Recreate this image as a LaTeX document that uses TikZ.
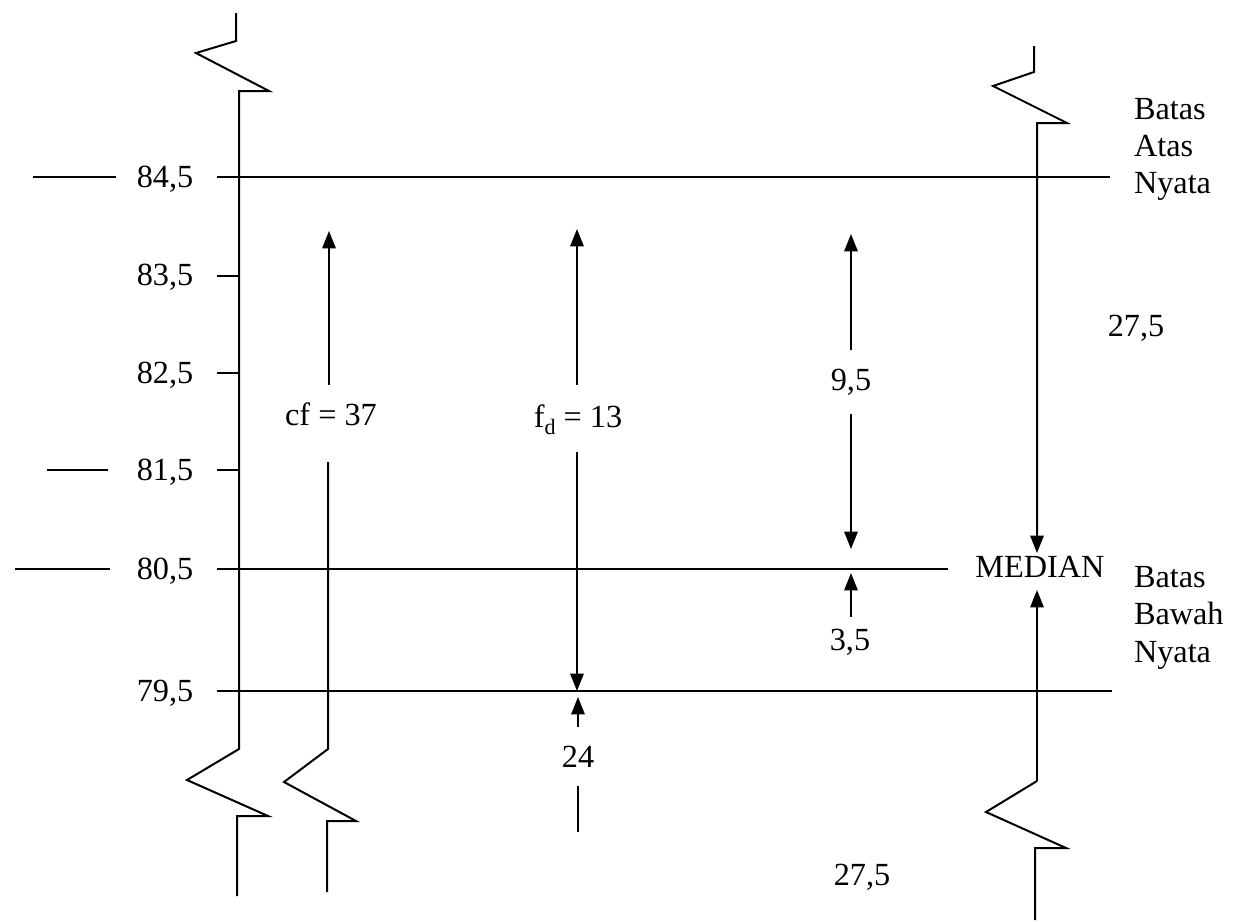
\documentclass[tikz,border=0pt]{standalone}
\usepackage{fontspec}
\setmainfont{Liberation Serif}
\usetikzlibrary{arrows.meta}
\begin{document}
\begin{tikzpicture}[x=0.75pt,y=-0.75pt,line width=1.5pt,line join=miter,
  lbl/.style={font=\fontsize{24.2}{29}\selectfont,inner sep=0pt},
  val/.style={lbl,anchor=base},
  side/.style={lbl,anchor=base west},
  arr/.style={-{Triangle[length=13pt,width=10pt]}}]
\path[use as bounding box] (0,0) rectangle (1236,922);

% scale values on the left
\node[val] (v845) at (165,187) {84,5};
\node[val] (v835) at (165,285) {83,5};
\node[val] (v825) at (165,383) {82,5};
\node[val] (v815) at (165,480) {81,5};
\node[val] (v805) at (165,579) {80,5};
\node[val] (v795) at (165,701) {79,5};

% short marks left of the values
\coordinate (a1) at (33,177);  \coordinate (a2) at (116,177);
\coordinate (b1) at (47,470);  \coordinate (b2) at (108,470);
\coordinate (c1) at (15,569);  \coordinate (c2) at (110,569);
\draw (a1) -- (a2);
\draw (b1) -- (b2);
\draw (c1) -- (c2);

% class boundaries and ticks
\coordinate (h845a) at (217,177); \coordinate (h845b) at (1110,177);
\coordinate (h835a) at (217,276); \coordinate (h835b) at (239,276);
\coordinate (h825a) at (217,373); \coordinate (h825b) at (239,373);
\coordinate (h815a) at (217,470); \coordinate (h815b) at (239,470);
\coordinate (h805a) at (217,569); \coordinate (h805b) at (948,569);
\coordinate (h795a) at (217,691); \coordinate (h795b) at (1112,691);
\draw (h845a) -- (h845b);
\draw (h835a) -- (h835b);
\draw (h825a) -- (h825b);
\draw (h815a) -- (h815b);
\draw (h805a) -- (h805b);
\draw (h795a) -- (h795b);

% broken vertical axis
\coordinate (ax0) at (236,13);
\coordinate (ax1) at (237,896);
\draw (ax0) -- (236,41) -- (196,53) -- (269,91) -- (239,91) -- (239,749)
  -- (187,780) -- (268,816) -- (237,816) -- (ax1);

% cumulative frequency below the class
\node[lbl] (cf) at (331,414) {cf = 37};
\coordinate (cfTop) at (329,231);
\coordinate (cfA) at (329,385);
\coordinate (cfB) at (328,462);
\coordinate (cfEnd) at (327,892);
\draw[arr] (cfA) -- (cfTop);
\draw (cfB) -- (328,749) -- (284,782) -- (356,821) -- (327,821) -- (cfEnd);

% frequency of the median class
\node[lbl] (fd) at (578,420) {f\raisebox{-0.22em}{\fontsize{16.5}{16.5}\selectfont d} = 13};
\coordinate (fdTop) at (577,229);
\coordinate (fdA) at (577,385);
\coordinate (fdB) at (577,452);
\coordinate (fdBot) at (577,691);
\draw[arr] (fdA) -- (fdTop);
\draw[arr] (fdB) -- (fdBot);

% 24 below
\node[lbl] (n24) at (578,757) {24};
\coordinate (t24) at (578,697);
\coordinate (s24) at (578,727);
\coordinate (u24) at (578,786);
\coordinate (w24) at (578,832);
\draw[arr] (s24) -- (t24);
\draw (u24) -- (w24);

% 9,5 and 3,5
\node[lbl] (n95) at (851,382) {9,5};
\coordinate (t95) at (851,234);
\coordinate (s95) at (851,350);
\coordinate (u95) at (851,414);
\coordinate (w95) at (851,549);
\draw[arr] (s95) -- (t95);
\draw[arr] (u95) -- (w95);
\node[lbl] (n35) at (850,642) {3,5};
\coordinate (t35) at (851,573);
\coordinate (s35) at (851,617);
\draw[arr] (s35) -- (t35);

% median position
\node[lbl] (med) at (1040,567) {MEDIAN};
\coordinate (mTop) at (1034,46);
\coordinate (mDown) at (1037,553);
\coordinate (mUp) at (1037,590);
\coordinate (mBot) at (1035,920);
\draw[arr] (mTop) -- (1034,72) -- (993,86) -- (1067,123) -- (1037,123) -- (mDown);
\draw[arr] (1037,781) -- (mUp);
\draw (1037,781) -- (986,812) -- (1066,848) -- (1035,848) -- (mBot);

% remaining counts
\node[lbl] (n275a) at (1136,328) {27,5};
\node[lbl] (n275b) at (862,877) {27,5};

% boundary names
\node[side] (ba1) at (1133,119) {Batas};
\node[side] (ba2) at (1133,156) {Atas};
\node[side] (ba3) at (1133,193) {Nyata};
\node[side] (bb1) at (1133,587) {Batas};
\node[side] (bb2) at (1133,624) {Bawah};
\node[side] (bb3) at (1133,662) {Nyata};
\end{tikzpicture}
\end{document}
